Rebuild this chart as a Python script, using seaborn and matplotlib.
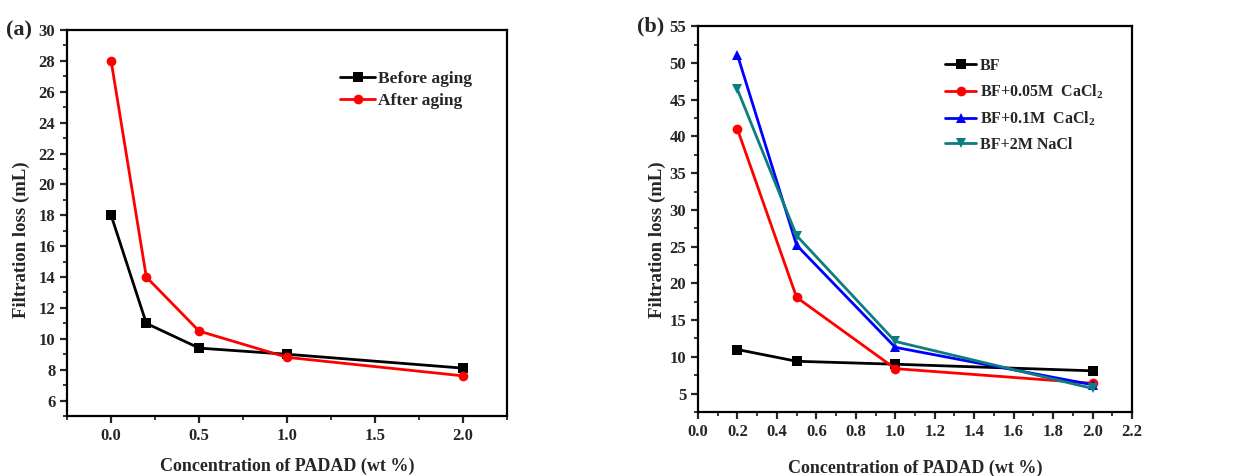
import numpy as np
import pandas as pd
import matplotlib
matplotlib.use("Agg")
import matplotlib.pyplot as plt
import seaborn as sns
from matplotlib.ticker import MultipleLocator

# ---------------- data ----------------
conc_a = [0.0, 0.2, 0.5, 1.0, 2.0]
before_aging = [18.0, 11.0, 9.4, 9.0, 8.1]
after_aging = [28.0, 14.0, 10.5, 8.8, 7.6]

conc_b = [0.2, 0.5, 1.0, 2.0]
bf = [11.0, 9.4, 9.0, 8.1]
bf_cacl2_005 = [41.0, 18.1, 8.4, 6.4]
bf_cacl2_01 = [51.1, 25.2, 11.3, 6.2]
bf_nacl_2 = [46.4, 26.5, 12.1, 5.7]

labels_a = ["Before aging", "After aging"]
labels_b = ["BF", "BF+0.05M  CaCl$_2$", "BF+0.1M  CaCl$_2$", "BF+2M NaCl"]

# ---------------- style ----------------
sns.set_style("ticks")
plt.rcParams["font.family"] = ["Liberation Serif", "DejaVu Serif"]
plt.rcParams["font.weight"] = "bold"
plt.rcParams["axes.labelweight"] = "bold"
plt.rcParams["mathtext.fontset"] = "custom"
plt.rcParams["mathtext.rm"] = "Liberation Serif:bold"
plt.rcParams["mathtext.default"] = "rm"

fig = plt.figure(figsize=(12.43, 4.76), dpi=100)
ax1 = fig.add_axes([0.054, 0.126, 0.354, 0.811])
ax2 = fig.add_axes([0.5615, 0.1345, 0.3492, 0.8105])


def style_axis(ax, xpad, ylab_pos):
    for s in ax.spines.values():
        s.set_linewidth(1.6)
        s.set_color("black")
    ax.tick_params(which="major", direction="out", length=5, width=1.6,
                   labelsize=12, top=False, right=False)
    ax.tick_params(which="minor", direction="out", length=3, width=1.3,
                   top=False, right=False)
    for lab in ax.get_xticklabels() + ax.get_yticklabels():
        lab.set_fontweight("bold")
    ax.set_xlabel("Concentration of PADAD (wt %)", fontsize=13,
                  fontweight="bold", labelpad=xpad)
    ax.set_ylabel("Filtration loss (mL)", fontsize=13.5, fontweight="bold")
    ax.yaxis.set_label_coords(*ylab_pos)


# ---------------- panel (a) ----------------
df_a = pd.DataFrame({"x": conc_a * 2,
                     "y": before_aging + after_aging,
                     "series": [labels_a[0]] * 5 + [labels_a[1]] * 5})
sns.lineplot(data=df_a, x="x", y="y", hue="series", style="series",
             markers=["s", "o"], dashes=False, palette=["black", "red"],
             linewidth=2, markersize=7, markeredgewidth=0, ax=ax1)
ax1.set_xlim(-0.25, 2.25)
ax1.set_ylim(5, 30)
ax1.set_xticks([0.0, 0.5, 1.0, 1.5, 2.0])
ax1.set_yticks(np.arange(6, 31, 2))
ax1.xaxis.set_minor_locator(MultipleLocator(0.25))
ax1.yaxis.set_minor_locator(MultipleLocator(1))
ax1.set_xticklabels(["0.0", "0.5", "1.0", "1.5", "2.0"])
style_axis(ax1, 10, (-0.085, 0.456))
ax1.legend(loc="upper left", bbox_to_anchor=(0.585, 0.935), frameon=False,
           prop={"weight": "bold", "size": 12.5}, handlelength=2.0,
           handletextpad=0.2, labelspacing=0.35)
ax1.text(-0.14, 1.0, "(a)", transform=ax1.transAxes, fontsize=16,
         fontweight="bold", va="center")

# ---------------- panel (b) ----------------
series_b = [bf, bf_cacl2_005, bf_cacl2_01, bf_nacl_2]
df_b = pd.DataFrame({"x": conc_b * 4,
                     "y": sum(series_b, []),
                     "series": sum([[l] * 4 for l in labels_b], [])})
sns.lineplot(data=df_b, x="x", y="y", hue="series", style="series",
             markers=["s", "o", "^", "v"], dashes=False,
             palette=["black", "red", "blue", "#0b7f7f"],
             linewidth=2, markersize=7, markeredgewidth=0, ax=ax2)
ax2.set_xlim(0.0, 2.2)
ax2.set_ylim(2.5, 55)
ax2.set_xticks(np.round(np.arange(0, 2.21, 0.2), 1))
ax2.set_yticks(np.arange(5, 56, 5))
ax2.xaxis.set_minor_locator(MultipleLocator(0.1))
ax2.yaxis.set_minor_locator(MultipleLocator(2.5))
style_axis(ax2, 14, (-0.074, 0.446))
ax2.legend(loc="upper left", bbox_to_anchor=(0.535, 0.955), frameon=False,
           prop={"weight": "bold", "size": 11.5}, handlelength=2.0,
           handletextpad=0.2, labelspacing=0.55)
ax2.text(-0.14, 1.0, "(b)", transform=ax2.transAxes, fontsize=16,
         fontweight="bold", va="center")

fig.savefig("out.png", dpi=100)
